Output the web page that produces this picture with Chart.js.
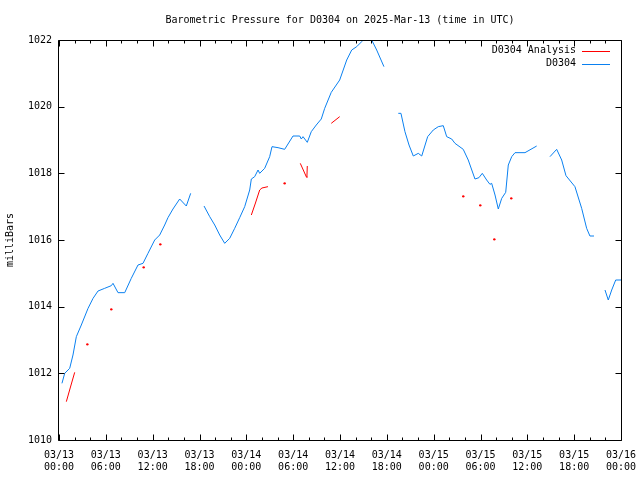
<!DOCTYPE html>
<html>
<head>
<meta charset="utf-8">
<script src="https://cdn.jsdelivr.net/npm/chart.js@4"></script>
<style>
html,body{margin:0;padding:0;background:#fff;}
#wrap{width:640px;height:480px;}
</style>
</head>
<body>
<div id="wrap"><canvas id="c" width="640" height="480"></canvas></div>
<script>
// Hours since 2025-03-13 00:00 UTC; null value = gap in record
const obsHours = [
  0.38,0.73,1.37,1.79,2.22,2.86,3.72,4.36,5.00,5.85,6.70,6.92,7.56,8.42,9.26,10.12,10.76,11.40,12.26,12.90,13.54,13.96,14.60,15.46,16.31,16.87,
  17.7,
  18.58,19.31,19.95,20.59,21.23,21.87,22.51,23.15,23.79,24.43,24.64,25.07,25.50,25.71,26.35,26.99,27.29,28.06,28.91,29.98,30.84,31.04,31.26,31.81,32.32,32.96,33.60,34.04,34.88,35.96,36.86,37.50,38.14,38.78,39.50,40.06,40.70,41.63,
  42.5,
  43.47,43.81,44.32,44.84,45.39,46.03,46.47,47.23,47.95,48.59,49.23,49.67,50.31,50.73,51.79,52.43,53.29,53.80,54.23,54.79,55.21,55.43,55.86,56.28,56.72,57.23,57.56,58.00,58.42,59.70,61.20,
  62.0,
  62.90,63.76,64.40,64.95,66.10,66.96,67.60,68.02,68.54,
  69.2,
  69.95,70.37,70.81,71.32,72.00
];
const obsValues = [
  1011.70,1012.00,1012.15,1012.55,1013.10,1013.45,1013.95,1014.25,1014.47,1014.55,1014.63,1014.70,1014.42,1014.42,1014.85,1015.25,1015.30,1015.60,1016.00,1016.15,1016.45,1016.67,1016.93,1017.23,1017.02,1017.40,
  null,
  1017.02,1016.70,1016.45,1016.15,1015.90,1016.05,1016.35,1016.67,1017.00,1017.50,1017.83,1017.90,1018.10,1018.00,1018.15,1018.50,1018.80,1018.77,1018.72,1019.12,1019.12,1019.03,1019.10,1018.93,1019.25,1019.45,1019.63,1019.95,1020.43,1020.80,1021.40,1021.70,1021.80,1021.95,1022.18,1022.00,1021.70,1021.20,
  null,
  1019.80,1019.80,1019.25,1018.85,1018.52,1018.60,1018.52,1019.10,1019.30,1019.40,1019.43,1019.10,1019.03,1018.90,1018.72,1018.40,1017.83,1017.87,1018.00,1017.80,1017.67,1017.70,1017.35,1016.93,1017.25,1017.43,1018.25,1018.50,1018.62,1018.62,1018.82,
  null,
  1018.50,1018.72,1018.40,1017.93,1017.60,1016.95,1016.35,1016.12,1016.12,
  null,
  1014.50,1014.20,1014.50,1014.80,1014.80
];
const anaHours = [
  0.94,1.47,2.01, 2.8,
  3.63, 5.0,
  6.70, 8.5,
  10.85, 12.0,
  12.98, 18.0,
  24.64,25.17,25.71,26.00,26.77, 27.8,
  28.91, 30.0,
  30.91,31.68,31.76,31.81, 33.0,
  34.88,35.96, 45.0,
  51.79, 53.0,
  53.97, 55.0,
  55.77, 57.0,
  57.94
];
const anaValues = [
  1011.15,1011.59,1012.03, null,
  1012.87, null,
  1013.92, null,
  1015.18, null,
  1015.87, null,
  1016.75,1017.11,1017.50,1017.56,1017.60, null,
  1017.70, null,
  1018.30,1017.90,1017.88,1018.22, null,
  1019.50,1019.70, null,
  1017.31, null,
  1017.04, null,
  1016.02, null,
  1017.25
];
const yTicks = [1010,1012,1014,1016,1018,1020,1022];
const dayLabels = ['03/13','03/14','03/15','03/16'];
const titleText = 'Barometric Pressure for D0304 on 2025-Mar-13 (time in UTC)';
const seriesNames = ['D0304 Analysis','D0304'];

const RED = '#ff0000';
const BLUE = '#0a80f0';
const FONT = "'DejaVu Sans Mono', 'Liberation Mono', monospace";

function toPts(hs, vs){ return hs.map((h,i)=>({x:h, y:vs[i]})); }

function isolatedRadius(vals){
  return ctx => {
    const i = ctx.dataIndex;
    if (vals[i] === null) return 0;
    const prev = i>0 ? vals[i-1] : null;
    const next = i<vals.length-1 ? vals[i+1] : null;
    return (prev === null && next === null) ? 1.2 : 0;
  };
}

const framePlugin = {
  id: 'frame',
  afterDraw(chart){
    const ctx = chart.ctx;
    const a = chart.chartArea;
    const xs = chart.scales.x, ys = chart.scales.y;
    const L = Math.round(a.left)-0.5, R = Math.round(a.right)+0.5;
    const T = Math.round(a.top)+0.5, B = Math.round(a.bottom)+0.5;
    ctx.save();
    ctx.strokeStyle = '#000';
    ctx.lineWidth = 1;
    ctx.beginPath();
    ctx.rect(L, T, R-L, B-T);
    for (let h = 0; h <= 72; h += 2){
      const px = Math.round(xs.getPixelForValue(h)) + 0.5;
      const len = (h % 6 === 0) ? 6 : 3;
      ctx.moveTo(px, B); ctx.lineTo(px, B-len);
      ctx.moveTo(px, T); ctx.lineTo(px, T+len);
    }
    yTicks.forEach(v => {
      const py = Math.round(ys.getPixelForValue(v)) + 0.5;
      ctx.moveTo(L, py); ctx.lineTo(L+6, py);
      ctx.moveTo(R, py); ctx.lineTo(R-6, py);
    });
    ctx.stroke();
    ctx.font = '10px ' + FONT;
    ctx.fillStyle = '#000';
    ctx.textBaseline = 'middle';
    // title centred over the plot area
    ctx.textAlign = 'center';
    ctx.fillText(titleText, (a.left + a.right) / 2, 20);
    // legend inside top-right
    ctx.textAlign = 'right';
    const colors = [RED, BLUE];
    seriesNames.forEach((n, i) => {
      const y = 50.5 + i*13;
      ctx.fillText(n, 576, y);
      ctx.strokeStyle = colors[i];
      ctx.beginPath();
      ctx.moveTo(582, Math.round(y)+0.5);
      ctx.lineTo(610, Math.round(y)+0.5);
      ctx.stroke();
    });
    ctx.restore();
  }
};

new Chart(document.getElementById('c'), {
  type: 'line',
  data: {
    datasets: [
      {
        label: seriesNames[0],
        data: toPts(anaHours, anaValues),
        borderColor: RED,
        backgroundColor: RED,
        borderWidth: 1,
        pointRadius: isolatedRadius(anaValues),
        pointBorderWidth: 0,
        pointBackgroundColor: RED,
        spanGaps: false,
        tension: 0
      },
      {
        label: seriesNames[1],
        data: toPts(obsHours, obsValues),
        borderColor: BLUE,
        backgroundColor: BLUE,
        borderWidth: 1,
        pointRadius: 0,
        spanGaps: false,
        tension: 0
      }
    ]
  },
  options: {
    responsive: false,
    animation: false,
    devicePixelRatio: 1,
    layout: { padding: { left: 0, right: 19, top: 40, bottom: 0 } },
    plugins: {
      legend: { display: false },
      tooltip: { enabled: false },
      title: { display: false }
    },
    scales: {
      x: {
        type: 'linear',
        min: 0, max: 72,
        grid: { display: false, drawTicks: false },
        border: { display: false },
        afterFit(s){ s.height = 40; s.paddingLeft = 0; s.paddingRight = 0; },
        ticks: {
          stepSize: 6,
          autoSkip: false,
          maxRotation: 0,
          padding: 9,
          color: '#000',
          font: { family: FONT, size: 10 },
          callback(v){
            const d = Math.floor(v/24);
            const hh = v % 24;
            return [dayLabels[d], String(hh).padStart(2,'0') + ':00'];
          }
        }
      },
      y: {
        min: 1010, max: 1022,
        grid: { display: false, drawTicks: false },
        border: { display: false },
        afterFit(s){ s.width = 59; s.paddingTop = 0; s.paddingBottom = 0; },
        ticks: {
          stepSize: 2,
          padding: 7,
          color: '#000',
          font: { family: FONT, size: 10 },
          callback(v){ return String(v); }
        },
        title: {
          display: true,
          text: 'milliBars',
          color: '#000',
          font: { family: FONT, size: 10 },
          padding: { top: 4, bottom: 0 }
        }
      }
    }
  },
  plugins: [framePlugin]
});
</script>
</body>
</html>
